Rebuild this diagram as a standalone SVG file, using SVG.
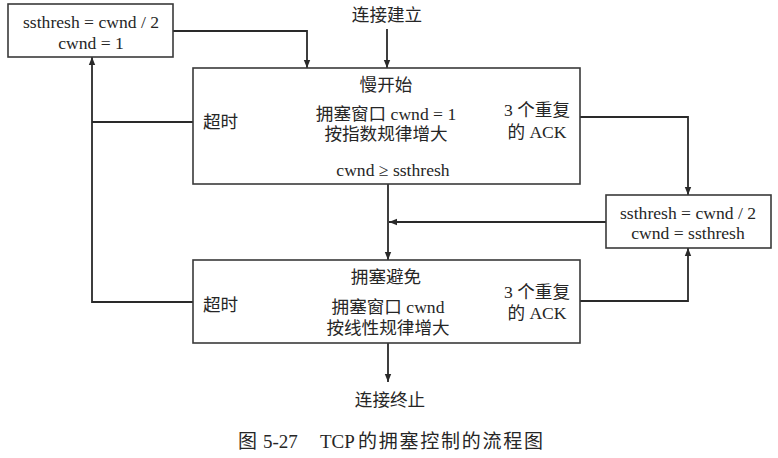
<svg xmlns="http://www.w3.org/2000/svg" width="778" height="458" viewBox="0 0 778 458">
<defs>
<marker id="ah" viewBox="0 0 10 10" refX="10" refY="5" markerWidth="8" markerHeight="8" markerUnits="userSpaceOnUse" orient="auto">
<path d="M0,1 L10,5 L0,9 Z" fill="#2a2a2a"/>
</marker>
</defs>
<style>
text{font-family:"Liberation Serif","Noto Sans CJK SC",serif;font-size:17.6px;fill:#262626}
.c{text-anchor:middle}
.cap{font-size:19px}
.box{fill:#fff;stroke:#3a3a3a;stroke-width:1.6}
.ln{fill:none;stroke:#2a2a2a;stroke-width:1.8;marker-end:url(#ah)}
.ln2{fill:none;stroke:#2a2a2a;stroke-width:1.8}
</style>
<rect width="778" height="458" fill="#fff"/>
<g id="connectors">
<path class="ln" d="M387 29 V68"/>
<path class="ln" d="M173 31 H307 V68"/>
<path class="ln2" d="M193 122 H92"/>
<path class="ln" d="M193 302 H92 V57"/>
<path class="ln" d="M580 117 H688 V195"/>
<path class="ln" d="M580 301 H688 V248"/>
<path class="ln" d="M606 222 H389"/>
<path class="ln" d="M388 184 V260"/>
<path class="ln" d="M388 343 V382"/>
</g>
<g id="start">
<text class="c" x="387" y="21">连接建立</text>
</g>
<g id="reset">
<rect class="box" x="8" y="4" width="165" height="53"/>
<text class="c" x="91" y="28">ssthresh = cwnd / 2</text>
<text class="c" x="91" y="49">cwnd = 1</text>
</g>
<g id="slowstart">
<rect class="box" x="193" y="68" width="387" height="116"/>
<text class="c" x="386" y="91">慢开始</text>
<text class="c" x="386" y="120">拥塞窗口 cwnd = 1</text>
<text class="c" x="386" y="140">按指数规律增大</text>
<text class="c" x="393" y="176">cwnd ≥ ssthresh</text>
<text x="203" y="128">超时</text>
<text class="c" x="537" y="116">3 个重复</text>
<text class="c" x="537" y="138">的 ACK</text>
</g>
<g id="fastrecovery">
<rect class="box" x="606" y="195" width="165" height="53"/>
<text class="c" x="688" y="219">ssthresh = cwnd / 2</text>
<text class="c" x="688" y="239">cwnd = ssthresh</text>
</g>
<g id="avoidance">
<rect class="box" x="193" y="260" width="387" height="83"/>
<text class="c" x="386" y="283">拥塞避免</text>
<text class="c" x="388" y="313">拥塞窗口 cwnd</text>
<text class="c" x="388" y="334">按线性规律增大</text>
<text x="203" y="311">超时</text>
<text class="c" x="537" y="298">3 个重复</text>
<text class="c" x="537" y="319">的 ACK</text>
</g>
<g id="end">
<text class="c" x="390" y="406">连接终止</text>
</g>
<g id="caption">
<text class="cap" x="238" y="448">图<tspan x="263">5-27</tspan><tspan x="320">TCP</tspan><tspan x="358" textLength="185" lengthAdjust="spacing">的拥塞控制的流程图</tspan></text>
</g>
</svg>
